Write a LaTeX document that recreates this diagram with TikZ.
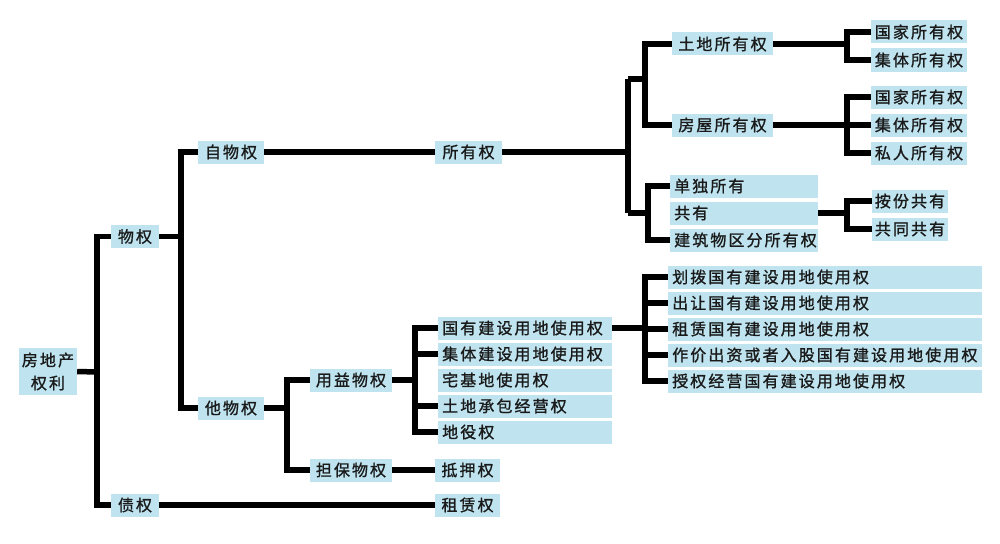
\documentclass[tikz,border=0pt]{standalone}
\usepackage{fontspec}
\newfontfamily\cjk{Noto Sans CJK SC}[LetterSpace=13,FakeBold=1.2]
\definecolor{boxc}{HTML}{BFE4F0}
\definecolor{txt}{HTML}{1A1A1A}
\tikzset{
  cbox/.style={fill=boxc, minimum height=23pt, inner sep=0pt, text=txt,
    font=\fontsize{16}{23}\selectfont\cjk, align=center},
  lbox/.style={cbox, align=left, text width=#1, inner xsep=4pt, anchor=west},
  conn/.style={line width=5.5pt, black, line join=miter},
}
\begin{document}
\begin{tikzpicture}[x=1pt,y=-1pt]
\path[use as bounding box, fill=white] (0,0) rectangle (1000,543);
% level 0-2
\node[cbox, minimum width=58pt, minimum height=47pt] (root) at (48,371.5) {房地产\\权利};
\node[cbox, minimum width=48pt] (wq) at (135,236.5) {物权};
\node[cbox, minimum width=48pt] (zq) at (135,505) {债权};
\node[cbox, minimum width=66pt] (zwq) at (231,152) {自物权};
\node[cbox, minimum width=66pt] (twq) at (231,408) {他物权};
\node[cbox, minimum width=67pt] (syq) at (468.5,152) {所有权};
\node[cbox, minimum width=82pt] (yy) at (351,380) {用益物权};
\node[cbox, minimum width=82pt] (db) at (351,470) {担保物权};
\node[cbox, minimum width=65pt] (dy) at (467.5,470) {抵押权};
\node[cbox, minimum width=65pt] (zl) at (467.5,505) {租赁权};
% 用益物权 children
\node[lbox=166pt] (u1) at (438,328) {国有建设用地使用权};
\node[lbox=166pt] (u2) at (438,354) {集体建设用地使用权};
\node[lbox=166pt] (u3) at (438,380) {宅基地使用权};
\node[lbox=166pt] (u4) at (438,406) {土地承包经营权};
\node[lbox=166pt] (u5) at (438,432) {地役权};
% 国有建设用地使用权 children
\node[lbox=306pt] (g1) at (668,277) {划拨国有建设用地使用权};
\node[lbox=306pt] (g2) at (668,303) {出让国有建设用地使用权};
\node[lbox=306pt] (g3) at (668,329) {租赁国有建设用地使用权};
\node[lbox=306pt] (g4) at (668,355) {作价出资或者入股国有建设用地使用权};
\node[lbox=306pt] (g5) at (668,381) {授权经营国有建设用地使用权};
% 所有权 children
\node[cbox, minimum width=101pt] (td) at (722.5,44) {土地所有权};
\node[cbox, minimum width=101pt] (fw) at (722.5,125) {房屋所有权};
\node[lbox=140pt] (dd) at (670,186) {单独所有};
\node[lbox=140pt] (gy) at (670,213) {共有};
\node[lbox=140pt] (jz) at (670,240) {建筑物区分所有权};
\node[cbox, minimum width=96pt] (t1) at (919,32) {国家所有权};
\node[cbox, minimum width=96pt] (t2) at (919,60) {集体所有权};
\node[cbox, minimum width=96pt] (f1) at (919,97) {国家所有权};
\node[cbox, minimum width=96pt] (f2) at (919,125) {集体所有权};
\node[cbox, minimum width=96pt] (f3) at (919,153) {私人所有权};
\node[cbox, minimum width=76pt] (a1) at (910,201) {按份共有};
\node[cbox, minimum width=76pt] (a2) at (910,229) {共同共有};
% connectors
\coordinate (r0) at (97,372);
\draw[conn] (root.east) -- (r0);
\draw[conn] (wq.west) -| (r0) |- (zq.west);
\coordinate (w0) at (181,236.5);
\draw[conn] (wq.east) -- (w0);
\draw[conn] (zwq.west) -| (w0) |- (twq.west);
\draw[conn] (zwq.east) -- (syq.west);
\coordinate (s0) at (628,152);
\coordinate (s1) at (628,79);
\coordinate (s2) at (628,213);
\draw[conn] (syq.east) -- (s0);
\draw[conn] (s1) -- (s2);
\coordinate (s1b) at (645,79);
\coordinate (s2b) at (648,213);
\draw[conn] (s1) -- (s1b);
\draw[conn] (td.west) -| (s1b) |- (fw.west);
\draw[conn] (s2) -- (s2b);
\draw[conn] (dd.west) -| (s2b) |- (jz.west);
\coordinate (tdv) at (847,44);
\draw[conn] (td.east) -- (tdv);
\draw[conn] (t1.west) -| (tdv) |- (t2.west);
\coordinate (fwv) at (847,125);
\draw[conn] (fw.east) -- (f2.west);
\draw[conn] (f1.west) -| (fwv) |- (f3.west);
\coordinate (gyv) at (847,213);
\draw[conn] (gy.east) -- (gyv);
\draw[conn] (a1.west) -| (gyv) |- (a2.west);
\coordinate (t0) at (287,408);
\draw[conn] (twq.east) -- (t0);
\draw[conn] (yy.west) -| (t0) |- (db.west);
\coordinate (y0) at (415,380);
\draw[conn] (yy.east) -- (y0);
\draw[conn] (u1.west) -| (y0) |- (u5.west);
\draw[conn] (u2.west) -- (u2.west -| y0);
\draw[conn] (u4.west) -- (u4.west -| y0);
\draw[conn] (db.east) -- (dy.west);
\draw[conn] (zq.east) -- (zl.west);
\coordinate (g0) at (645,329);
\draw[conn] (u1.east) -- (u1.east -| g0);
\draw[conn] (g1.west) -| (g0) |- (g5.west);
\draw[conn] (g2.west) -- (g2.west -| g0);
\draw[conn] (g3.west) -- (g3.west -| g0);
\draw[conn] (g4.west) -- (g4.west -| g0);
\end{tikzpicture}
\end{document}
